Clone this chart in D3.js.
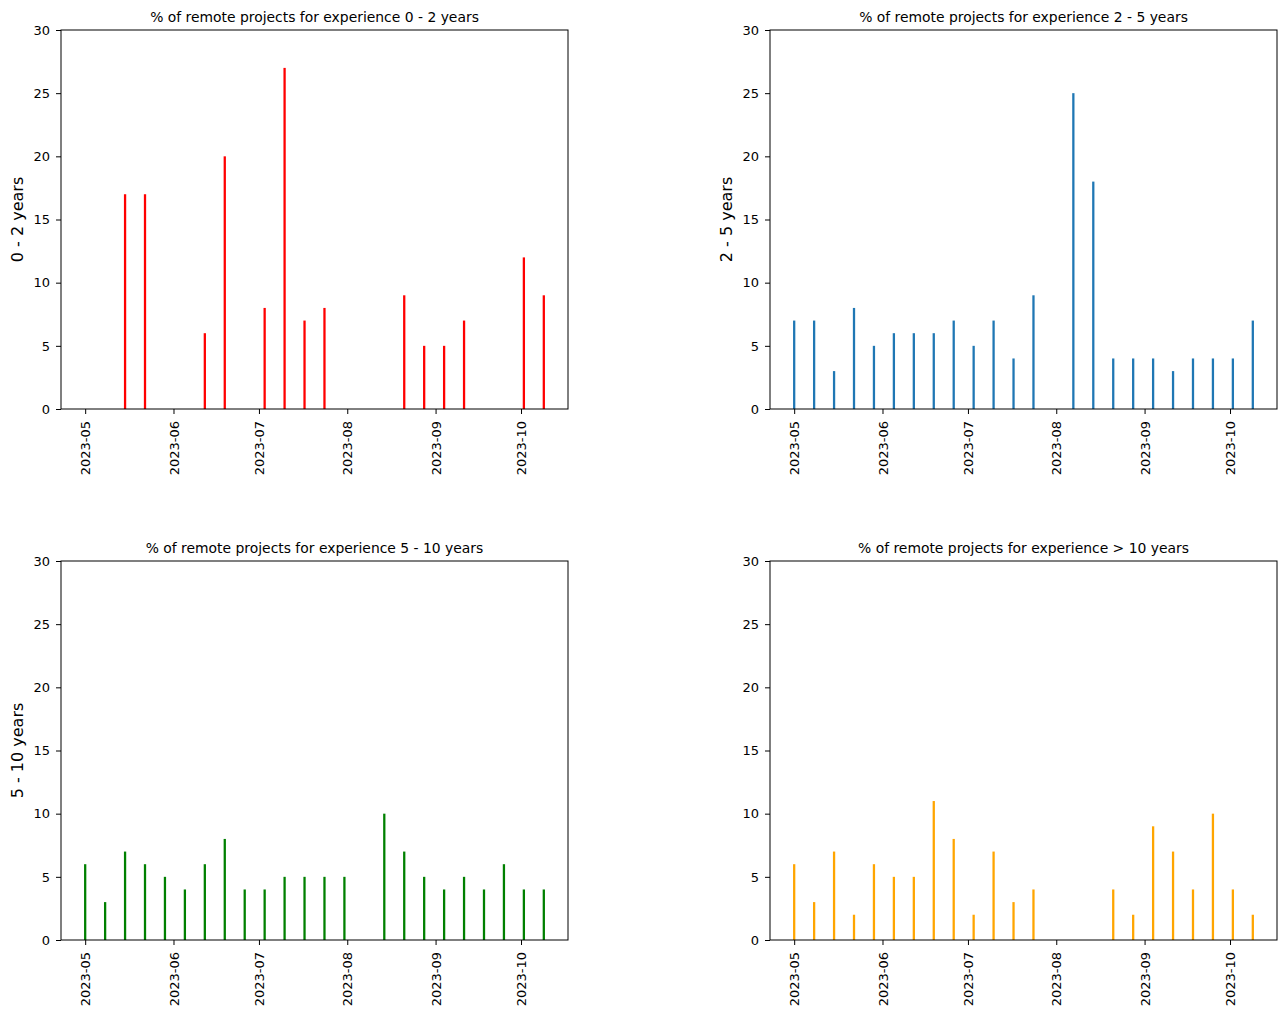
<!DOCTYPE html>
<html><head><meta charset="utf-8">
<script src="https://cdn.jsdelivr.net/npm/d3@7"></script>
<style>body{margin:0;background:#fff;} text{font-family:"DejaVu Sans",sans-serif;}</style>
</head><body>
<script>
const weeks = ["2023-05-01","2023-05-08","2023-05-15","2023-05-22","2023-05-29","2023-06-05","2023-06-12","2023-06-19","2023-06-26","2023-07-03","2023-07-10","2023-07-17","2023-07-24","2023-07-31","2023-08-07","2023-08-14","2023-08-21","2023-08-28","2023-09-04","2023-09-11","2023-09-18","2023-09-25","2023-10-02","2023-10-09"];
const exp0to2  = [0,0,17,17,0,0,6,20,0,8,27,7,8,0,0,0,9,5,5,7,0,0,12,9];
const exp2to5  = [7,7,3,8,5,6,6,6,7,5,7,4,9,0,25,18,4,4,4,3,4,4,4,7];
const exp5to10 = [6,3,7,6,5,4,6,8,4,4,5,5,5,5,0,10,7,5,4,5,4,6,4,4];
const exp10plus= [6,3,7,2,6,5,5,11,8,2,7,3,4,0,0,0,4,2,9,7,4,10,4,2];
const titles = ["% of remote projects for experience 0 - 2 years","% of remote projects for experience 2 - 5 years","% of remote projects for experience 5 - 10 years","% of remote projects for experience > 10 years"];
const yLabels = ["0 - 2 years","2 - 5 years","5 - 10 years",""];
const colors = ["#ff0000","#1f77b4","#008000","#ffa500"];
const yTicks = [0,5,10,15,20,25,30];
const xTicks = ["2023-05-01","2023-06-01","2023-07-01","2023-08-01","2023-09-01","2023-10-01"];
const series = [exp0to2, exp2to5, exp5to10, exp10plus];

const W=1286,H=1018;
const svg=d3.select("body").append("svg").attr("width",W).attr("height",H);
const panels=[{x:61,y:30},{x:770,y:30},{x:61,y:561},{x:770,y:561}];
const pw=507, ph=379;
const parse=d3.utcParse("%Y-%m-%d");
const dates=weeks.map(parse);
const DAY=86400000;
const barW=0.8*DAY;
const x0=dates[0].getTime()-barW/2, x1=dates[dates.length-1].getTime()+barW/2;
const m=(x1-x0)*0.05;
const fmt=d3.utcFormat("%Y-%m");

series.forEach((vals,i)=>{
  const p=panels[i];
  const g=svg.append("g").attr("transform",`translate(${p.x},${p.y})`);
  const x=d3.scaleUtc().domain([new Date(x0-m),new Date(x1+m)]).range([0,pw]);
  const y=d3.scaleLinear().domain([0,30]).range([ph,0]);
  g.selectAll("rect.bar").data(vals).join("rect")
    .attr("x",(d,j)=>x(new Date(dates[j].getTime()-barW/2)))
    .attr("width",(d,j)=>x(new Date(dates[j].getTime()+barW/2))-x(new Date(dates[j].getTime()-barW/2)))
    .attr("y",d=>y(d)).attr("height",d=>y(0)-y(d))
    .attr("fill",colors[i]);
  const xa=g.append("g").attr("transform",`translate(0,${ph})`)
    .call(d3.axisBottom(x).tickValues(xTicks.map(parse)).tickFormat(fmt).tickSize(5).tickPadding(4));
  xa.select(".domain").remove();
  xa.selectAll("text").attr("transform","rotate(-90)").attr("text-anchor","end")
    .attr("x",-12).attr("y",0).attr("dy","0.35em").attr("font-size",13).attr("fill","#000");
  xa.selectAll("line").attr("stroke","#000");
  const ya=g.append("g").call(d3.axisLeft(y).tickValues(yTicks).tickSize(5).tickPadding(6));
  ya.select(".domain").remove();
  ya.selectAll("text").attr("font-size",13).attr("fill","#000");
  ya.selectAll("line").attr("stroke","#000");
  g.append("rect").attr("width",pw).attr("height",ph).attr("fill","none").attr("stroke","#000").attr("stroke-width",1);
  g.append("text").attr("x",pw/2).attr("y",-8).attr("text-anchor","middle").attr("font-size",13.9).text(titles[i]);
  if(yLabels[i]) g.append("text").attr("transform",`translate(${-38},${ph/2}) rotate(-90)`)
    .attr("text-anchor","middle").attr("font-size",16).text(yLabels[i]);
});
</script>
</body></html>
